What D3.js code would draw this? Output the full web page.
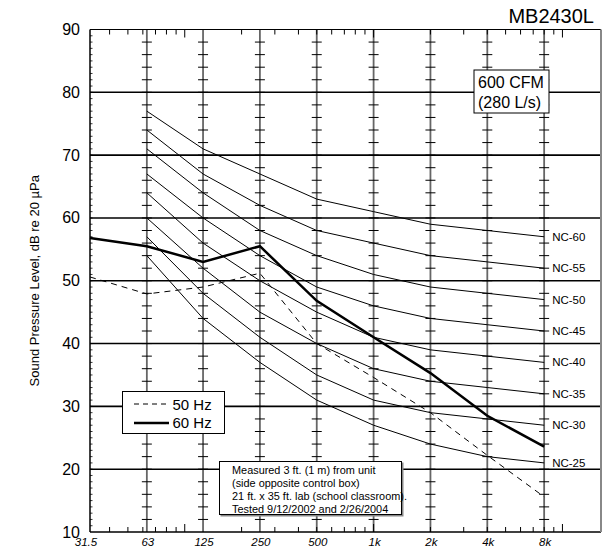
<!DOCTYPE html>
<html>
<head>
<meta charset="utf-8">
<script src="https://cdn.jsdelivr.net/npm/d3@7.9.0/dist/d3.min.js"></script>
<style>
  body { margin: 0; background: #fff; }
  svg { display: block; font-family: Arial, "Liberation Sans", sans-serif; }
</style>
</head>
<body>
<svg id="chart" width="605" height="558"></svg>
<script>
// octave bands and measured data
const bands = [31.5, 63, 125, 250, 500, 1000, 2000, 4000, 8000];
const bandLabels = ['31.5', '63', '125', '250', '500', '1k', '2k', '4k', '8k'];
const hz60 = [56.8, 55.5, 53.0, 55.5, 46.8, 41.0, 35.3, 28.5, 23.6];
const hz50 = [50.6, 47.9, 49.0, 51.2, 40.0, 34.6, 29.0, 22.2, 15.6];

// NC reference curves (63 Hz - 8 kHz)
const ncBands = [63, 125, 250, 500, 1000, 2000, 4000, 8000];
const nc25 = [54, 44, 37, 31, 27, 24, 22, 21];
const nc30 = [57, 48, 41, 35, 31, 29, 28, 27];
const nc35 = [60, 52, 45, 40, 36, 34, 33, 32];
const nc40 = [64, 56, 50, 45, 41, 39, 38, 37];
const nc45 = [67, 60, 54, 49, 46, 44, 43, 42];
const nc50 = [71, 64, 58, 54, 51, 49, 48, 47];
const nc55 = [74, 67, 62, 58, 56, 54, 53, 52];
const nc60 = [77, 71, 67, 63, 61, 59, 58, 57];
const ncLabels = ['NC-25', 'NC-30', 'NC-35', 'NC-40', 'NC-45', 'NC-50', 'NC-55', 'NC-60'];
const ncCurves = [nc25, nc30, nc35, nc40, nc45, nc50, nc55, nc60];

const yTicks = [10, 20, 30, 40, 50, 60, 70, 80, 90];

const plotLeft = 90, plotRight = 601, plotTop = 29.5, plotBottom = 532;

let x = d3.scaleLog().domain([31.5, 16000]).range([plotLeft, plotRight]);
let y = d3.scaleLinear().domain([10, 90]).range([plotBottom, plotTop]);

let svg = d3.select('#chart');

// vertical band lines (grey) with little cross ticks every 2 dB
let crossTicks = d3.range(12, 90, 2);
bands.slice(1).forEach((f) => {
  svg.append('line')
    .attr('x1', x(f)).attr('x2', x(f))
    .attr('y1', plotTop).attr('y2', plotBottom)
    .attr('stroke', '#666').attr('stroke-width', 1.8);
  crossTicks.forEach((v) => {
    svg.append('line')
      .attr('x1', x(f) - 5).attr('x2', x(f) + 5)
      .attr('y1', y(v)).attr('y2', y(v))
      .attr('stroke', '#000').attr('stroke-width', 1);
  });
});

// horizontal grid lines
yTicks.slice(1, -1).forEach((v) => {
  svg.append('line')
    .attr('x1', plotLeft).attr('x2', plotRight)
    .attr('y1', y(v)).attr('y2', y(v))
    .attr('stroke', '#000').attr('stroke-width', 1.6);
});

// frame
svg.append('line').attr('x1', plotLeft).attr('x2', plotRight).attr('y1', plotTop).attr('y2', plotTop)
  .attr('stroke', '#000').attr('stroke-width', 1.2);
svg.append('line').attr('x1', plotLeft).attr('x2', plotRight).attr('y1', plotBottom).attr('y2', plotBottom)
  .attr('stroke', '#000').attr('stroke-width', 1.5);
svg.append('line').attr('x1', plotLeft).attr('x2', plotLeft).attr('y1', plotTop).attr('y2', plotBottom)
  .attr('stroke', '#000').attr('stroke-width', 1.5);
svg.append('line').attr('x1', plotRight).attr('x2', plotRight).attr('y1', plotTop).attr('y2', plotBottom)
  .attr('stroke', '#888').attr('stroke-width', 2);

// left minor ticks every 1 dB
d3.range(11, 90).forEach((v) => {
  svg.append('line')
    .attr('x1', plotLeft).attr('x2', plotLeft + 2.5)
    .attr('y1', y(v)).attr('y2', y(v))
    .attr('stroke', '#000').attr('stroke-width', 0.8);
});

// log minor ticks on top and bottom
x.ticks().filter((t) => t > 31.5 && t < 16000).forEach((t) => {
  let decade = Math.abs(Math.log10(t) - Math.round(Math.log10(t))) < 1e-6;
  let len = decade ? 8 : 5;
  svg.append('line')
    .attr('x1', x(t)).attr('x2', x(t))
    .attr('y1', plotBottom).attr('y2', plotBottom - len)
    .attr('stroke', '#000').attr('stroke-width', 1);
  svg.append('line')
    .attr('x1', x(t)).attr('x2', x(t))
    .attr('y1', plotTop).attr('y2', plotTop + len)
    .attr('stroke', '#000').attr('stroke-width', 1);
});

// y tick labels
yTicks.forEach((v) => {
  svg.append('text')
    .attr('x', 80).attr('y', y(v) + 5.5)
    .attr('text-anchor', 'end')
    .attr('font-size', 16)
    .text(v);
});

// x tick labels
bands.forEach((f, i) => {
  svg.append('text')
    .attr('x', x(f) + (i === 0 ? -4 : 1)).attr('y', 546)
    .attr('text-anchor', 'middle')
    .attr('font-size', 11.5)
    .attr('font-style', 'italic')
    .text(bandLabels[i]);
});

// y axis title
svg.append('text')
  .attr('transform', `translate(39,${(plotTop + plotBottom) / 2}) rotate(-90)`)
  .attr('text-anchor', 'middle')
  .attr('font-size', 13)
  .text('Sound Pressure Level, dB re 20 \u00B5Pa');

// title
svg.append('text')
  .attr('x', 594).attr('y', 23)
  .attr('text-anchor', 'end')
  .attr('font-size', 20)
  .text('MB2430L');

// NC curves
let line = d3.line().x((d) => x(d[0])).y((d) => y(d[1]));
ncCurves.forEach((vals, i) => {
  let pts = ncBands.map((f, j) => [f, vals[j]]);
  svg.append('path')
    .attr('d', line(pts))
    .attr('fill', 'none')
    .attr('stroke', '#000')
    .attr('stroke-width', 1);
  svg.append('text')
    .attr('x', x(8000) + 8).attr('y', y(vals[vals.length - 1]) + 4)
    .attr('font-size', 11.5)
    .text(ncLabels[i]);
});

// measured spectra
svg.append('path')
  .attr('d', line(bands.map((f, j) => [f, hz50[j]])))
  .attr('fill', 'none')
  .attr('stroke', '#000')
  .attr('stroke-width', 1)
  .attr('stroke-dasharray', '6,5');
svg.append('path')
  .attr('d', line(bands.map((f, j) => [f, hz60[j]])))
  .attr('fill', 'none')
  .attr('stroke', '#000')
  .attr('stroke-width', 2.5);

// airflow box
svg.append('rect')
  .attr('x', 474).attr('y', 70).attr('width', 75).attr('height', 43)
  .attr('fill', '#fff').attr('stroke', '#000').attr('stroke-width', 1);
svg.append('text').attr('x', 478).attr('y', 88).attr('font-size', 16).text('600 CFM');
svg.append('text').attr('x', 478).attr('y', 108).attr('font-size', 16).text('(280 L/s)');

// legend
svg.append('rect')
  .attr('x', 122.5).attr('y', 391.5).attr('width', 102).attr('height', 42)
  .attr('fill', '#fff').attr('stroke', '#000').attr('stroke-width', 1);
svg.append('line')
  .attr('x1', 134).attr('x2', 169).attr('y1', 404).attr('y2', 404)
  .attr('stroke', '#000').attr('stroke-width', 1).attr('stroke-dasharray', '5,4');
svg.append('line')
  .attr('x1', 134).attr('x2', 169).attr('y1', 423).attr('y2', 423)
  .attr('stroke', '#000').attr('stroke-width', 2.5);
svg.append('text').attr('x', 172.5).attr('y', 409.5).attr('font-size', 15).text('50 Hz');
svg.append('text').attr('x', 172.5).attr('y', 428).attr('font-size', 15).text('60 Hz');

// test notes
const notes = [
  'Measured 3 ft. (1 m) from unit',
  '(side opposite control box)',
  '21 ft. x 35 ft. lab (school classroom).',
  'Tested 9/12/2002 and 2/26/2004'
];
svg.append('rect')
  .attr('x', 220.5).attr('y', 462.5).attr('width', 183).attr('height', 54)
  .attr('fill', '#888');
svg.append('rect')
  .attr('x', 219.5).attr('y', 461.5).attr('width', 182).attr('height', 53)
  .attr('fill', '#fff').attr('stroke', '#000').attr('stroke-width', 1);
notes.forEach((t, i) => {
  svg.append('text')
    .attr('x', 232).attr('y', 474 + i * 13)
    .attr('font-size', 10.9)
    .text(t);
});
</script>
</body>
</html>
